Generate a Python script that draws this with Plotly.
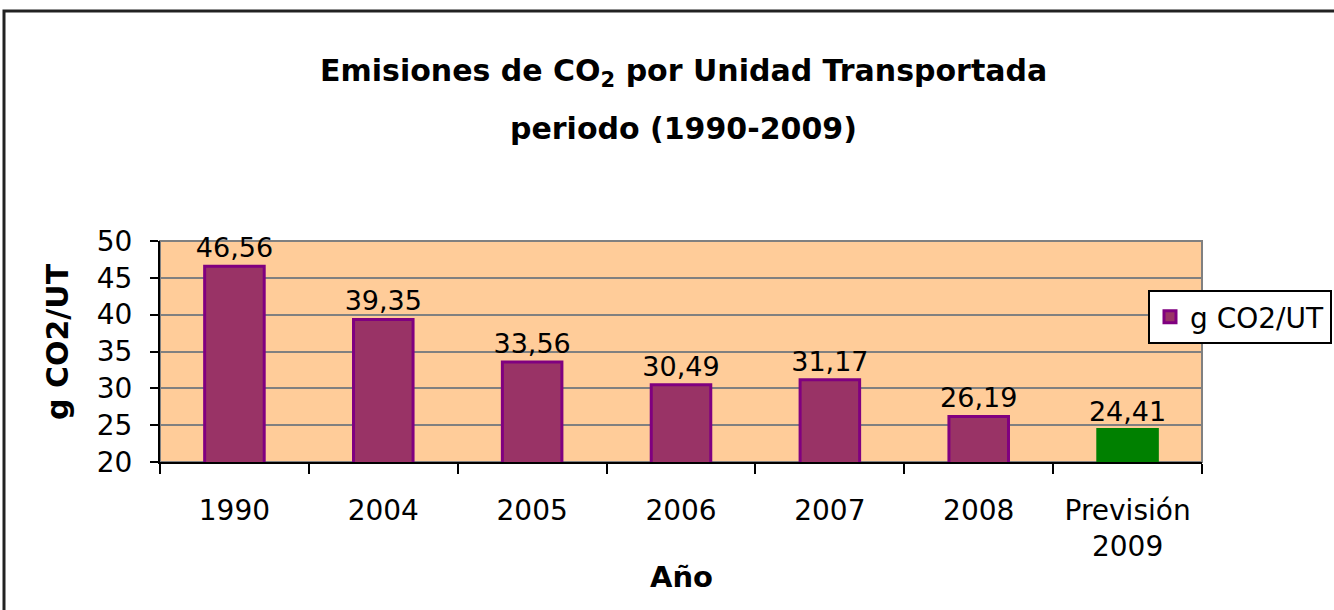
import plotly.graph_objects as go

categories = ["1990", "2004", "2005", "2006", "2007", "2008", "Previsión<br>2009"]
values = [46.56, 39.35, 33.56, 30.49, 31.17, 26.19, 24.41]
fill_colors = ["#993366"] * 6 + ["#008000"]
line_colors = ["#800080"] * 6 + ["#008000"]
y_ticks = [20, 25, 30, 35, 40, 45, 50]
series_name = "g CO2/UT"

FONT = "DejaVu Sans"
L, T, PW, PH = 160, 241, 1042, 221  # plot area in page pixels

def px(xp):
    return (xp - L) / PW

def py(yp):
    return (T + PH - yp) / PH

fig = go.Figure()
fig.add_trace(go.Bar(
    x=categories, y=values, name=series_name,
    marker=dict(color=fill_colors, line=dict(color=line_colors, width=3)),
    width=0.4,
    texttemplate="%{y:.2f}", textposition="outside", constraintext="none",
    textfont=dict(family=FONT, size=27, color="#000000"),
    cliponaxis=False, showlegend=True,
))

fig.update_layout(
    width=1334, height=610,
    margin=dict(l=L, r=1334 - L - PW, t=T, b=610 - T - PH, autoexpand=False),
    paper_bgcolor="#FFFFFF", plot_bgcolor="#FFCC99",
    separators=", ",
    font=dict(family=FONT, color="#000000"),
    showlegend=True,
    legend=dict(x=px(1148), y=py(290), xanchor="left", yanchor="top",
                bgcolor="#FFFFFF", bordercolor="#000000", borderwidth=2,
                font=dict(family=FONT, size=28)),
    bargap=0.6,
)
fig.update_xaxes(
    type="category", showline=True, linecolor="#000000", linewidth=2,
    ticks="outside", tickson="boundaries", ticklen=10, tickwidth=2, tickcolor="#000000",
    tickfont=dict(family=FONT, size=28), ticklabelstandoff=22,
    showgrid=False,
)
fig.update_yaxes(
    range=[20, 50], tickvals=y_ticks, showline=True, linecolor="#000000", linewidth=2,
    ticks="outside", ticklen=8, tickwidth=2, tickcolor="#000000",
    tickfont=dict(family=FONT, size=28), ticklabelstandoff=12,
    showgrid=True, gridcolor="#808080", gridwidth=2, zeroline=False,
)
# plot-area border (gray) and chart outer border
fig.add_shape(type="rect", xref="paper", yref="paper", x0=0, x1=1, y0=0, y1=1,
              line=dict(color="#808080", width=2), layer="below")
fig.add_shape(type="rect", xref="paper", yref="paper",
              x0=px(4), x1=px(1400), y0=py(700), y1=py(11),
              line=dict(color="#222222", width=3))

ann = dict(xref="paper", yref="paper", showarrow=False, xanchor="center", yanchor="middle")
fig.add_annotation(text="<b>Emisiones de CO<sub>2</sub> por Unidad Transportada</b>",
                   x=px(683), y=py(72), font=dict(family=FONT, size=30), **ann)
fig.add_annotation(text="<b>periodo (1990-2009)</b>",
                   x=px(683), y=py(128), font=dict(family=FONT, size=30), **ann)
fig.add_annotation(text="<b>g CO2/UT</b>", textangle=-90,
                   x=px(57), y=py(342), font=dict(family=FONT, size=30), **ann)
fig.add_annotation(text="<b>Año</b>",
                   x=px(681), y=py(577), font=dict(family=FONT, size=29), **ann)

fig.write_html("out.html", config={"displayModeBar": False},
               post_script="document.body.style.margin='0';")
